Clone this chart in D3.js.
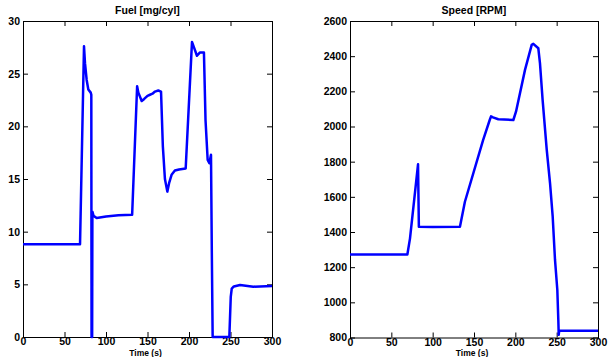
<!DOCTYPE html>
<html><head><meta charset="utf-8">
<script src="https://cdn.jsdelivr.net/npm/d3@7"></script>
<style>
body{margin:0;background:#fff}
svg{display:block}
text{font-family:"Liberation Sans",Arial,Helvetica,sans-serif;font-weight:bold;fill:#000}
</style>
</head><body>
<svg id="c" width="608" height="357"></svg>
<script>
// ---- data ----
const fuelTime  = [0, 68.7, 73.5, 74.7, 76.7, 78.7, 81.6, 82.3, 82.6, 83.3, 83.6, 85, 88.8, 100, 115, 131.5, 137.5, 139, 143, 146, 150, 153, 156, 159, 163, 166.3, 168.5, 171, 173.9, 176, 179, 183, 188, 196, 203.6, 206, 209.6, 213, 218, 219.9, 222.5, 224.5, 226.5, 227.5, 228.5, 248.6, 250.3, 251.5, 254, 261.5, 277.5, 300];
const fuelValue = [8.8, 8.8, 27.6, 26.0, 24.4, 23.5, 23.2, 23.0, 0, 0, 11.9, 11.5, 11.3, 11.45, 11.55, 11.6, 23.8, 23.2, 22.4, 22.6, 22.9, 23.0, 23.1, 23.3, 23.4, 23.3, 18.1, 15.0, 13.8, 14.6, 15.4, 15.8, 15.9, 16.0, 28.0, 27.5, 26.7, 27.0, 27.0, 20.6, 16.8, 16.5, 17.3, 8.0, 0, 0, 3.8, 4.6, 4.8, 4.94, 4.78, 4.84];

const speedTime  = [0, 69.4, 72.6, 82.3, 83.3, 100, 133, 139, 161, 169, 170.6, 173, 179.4, 197.6, 200.8, 211.7, 219.8, 221.8, 227.8, 229.8, 233, 238, 242, 245.2, 248, 250.8, 252, 252.5, 253, 300];
const speedValue = [1272, 1272, 1364, 1785, 1430, 1428, 1430, 1572, 1923, 2037, 2058, 2052, 2041, 2037, 2084, 2322, 2464, 2470, 2445, 2360, 2151, 1867, 1677, 1487, 1241, 1070, 900, 815, 838, 838];

const xTicks     = [0, 50, 100, 150, 200, 250, 300];
const fuelTicks  = [0, 5, 10, 15, 20, 25, 30];
const speedTicks = [800, 1000, 1200, 1400, 1600, 1800, 2000, 2200, 2400, 2600];

const svg = d3.select("#c");

function panel(opt) {
  const {left, right, top, bottom, xDomain, yDomain, times, values, yTicks, title} = opt;
  const x = d3.scaleLinear().domain(xDomain).range([left, right]);
  const y = d3.scaleLinear().domain(yDomain).range([bottom, top]);
  const g = svg.append("g");

  const ax = (a, tr) => g.append("g").attr("transform", tr).call(a)
      .call(s => s.selectAll("path,line").attr("stroke", "#000").attr("stroke-width", 1))
      .call(s => s.selectAll("text").attr("font-size", 10.5).attr("font-family", null));

  ax(d3.axisBottom(x).tickValues(xTicks).tickSizeInner(-5).tickSizeOuter(0).tickPadding(1).tickFormat(d3.format("d")), `translate(0,${bottom})`);
  ax(d3.axisTop(x).tickValues(xTicks).tickSizeInner(-5).tickSizeOuter(0).tickFormat(""), `translate(0,${top})`);
  ax(d3.axisLeft(y).tickValues(yTicks).tickSizeInner(-5).tickSizeOuter(0).tickPadding(3).tickFormat(d3.format("d")), `translate(${left},0)`);
  ax(d3.axisRight(y).tickValues(yTicks).tickSizeInner(-5).tickSizeOuter(0).tickFormat(""), `translate(${right},0)`);

  const pts = times.map((t, i) => [t, values[i]]);
  g.append("path").datum(pts)
    .attr("fill", "none").attr("stroke", "#0000ff").attr("stroke-width", 2.5)
    .attr("stroke-linejoin", "round")
    .attr("d", d3.line().x(d => x(d[0])).y(d => y(d[1])));

  g.append("text").attr("x", (left + right) / 2).attr("y", 14)
    .attr("text-anchor", "middle").attr("font-size", 10.5).text(title);
  g.append("text").attr("x", (left + right) / 2 - 2).attr("y", 356.3)
    .attr("text-anchor", "middle").attr("font-size", 8.5).text("Time (s)");
}

panel({left: 23, right: 272, top: 21, bottom: 337, xDomain: [0, 300], yDomain: [0, 30],
       times: fuelTime, values: fuelValue, yTicks: fuelTicks, title: "Fuel [mg/cyl]"});
panel({left: 350, right: 598, top: 21, bottom: 337.5, xDomain: [0, 300], yDomain: [800, 2600],
       times: speedTime, values: speedValue, yTicks: speedTicks, title: "Speed [RPM]"});
</script>
</body></html>
